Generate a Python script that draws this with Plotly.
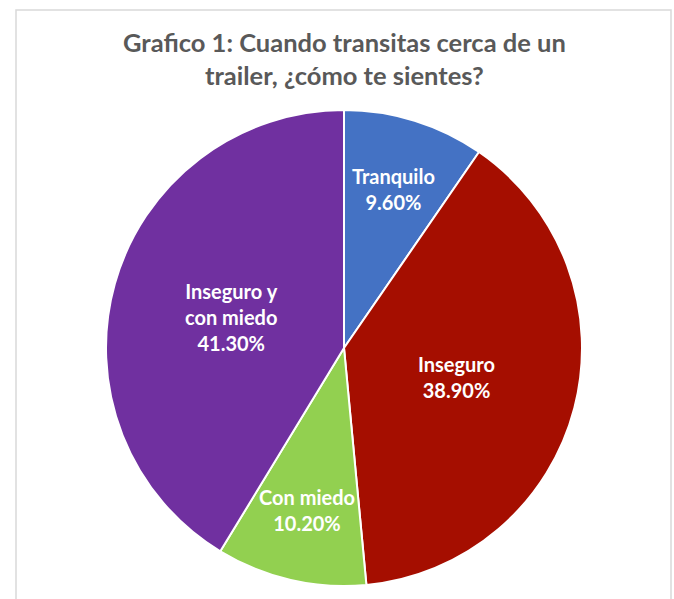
import math
import plotly.graph_objects as go

# Survey answers: how respondents feel when travelling near a trailer
categories = ["Tranquilo", "Inseguro", "Con miedo", "Inseguro y<br>con miedo"]
percentages = [9.6, 38.9, 10.2, 41.3]
slice_colors = ["#4472C4", "#A50E00", "#92D050", "#7030A0"]

W, H = 674, 599
cx, cy, r = 344, 348, 238

fig = go.Figure(
    go.Pie(
        labels=categories,
        values=percentages,
        sort=False,
        direction="clockwise",
        rotation=0,
        marker=dict(colors=slice_colors, line=dict(color="white", width=2)),
        textinfo="none",
        hoverinfo="label+percent",
        showlegend=False,
        domain=dict(
            x=[(cx - r) / W, (cx + r) / W],
            y=[1 - (cy + r) / H, 1 - (cy - r) / H],
        ),
    )
)

# data labels: placed along each slice's bisector, further out for thin slices
total = sum(percentages)
cum = 0.0
for lab, val in zip(categories, percentages):
    mid = (cum + val / 2) / total * 2 * math.pi  # clockwise from 12 o'clock
    cum += val
    frac = 0.70 if val / total < 0.2 else 0.49
    px = cx + frac * r * math.sin(mid)
    py = cy - frac * r * math.cos(mid)
    fig.add_annotation(
        text=f"{lab}<br>{val:.2f}%",
        xref="paper", yref="paper",
        x=px / W, y=1 - py / H,
        xanchor="center", yanchor="middle",
        showarrow=False,
        font=dict(family="Lato", size=20, color="white", weight="bold"),
    )

# chart frame
fig.add_shape(
    type="rect", xref="paper", yref="paper",
    x0=16 / W, x1=671 / W, y0=-0.05, y1=1 - 10 / H,
    line=dict(color="#D9D9D9", width=1.5), fillcolor="rgba(0,0,0,0)",
    layer="below",
)

# chart title
fig.add_annotation(
    text="Grafico 1: Cuando transitas cerca de un<br>trailer, ¿cómo te sientes?",
    xref="paper", yref="paper",
    x=344 / W, xanchor="center",
    y=1 - 58 / H, yanchor="middle",
    showarrow=False,
    font=dict(family="Lato", size=25.5, color="#595959", weight="bold"),
)

fig.update_layout(
    width=W, height=H,
    margin=dict(l=0, r=0, t=0, b=0),
    paper_bgcolor="white",
    plot_bgcolor="white",
)

fig.write_html("out.html")
